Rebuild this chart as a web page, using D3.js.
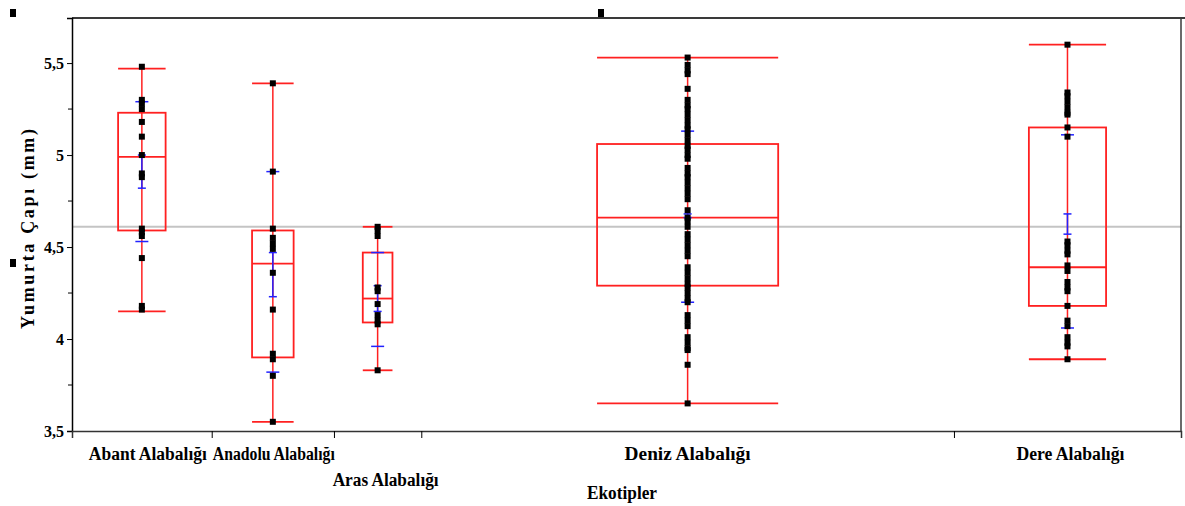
<!DOCTYPE html>
<html>
<head>
<meta charset="utf-8">
<script src="https://cdn.jsdelivr.net/npm/d3@7"></script>
<style>
  body { margin: 0; background: #fff; }
</style>
</head>
<body>
<svg id="chart" width="1185" height="506"></svg>
<script>
// ecotypes and how wide each one is drawn (JMP: width ~ sample size)
const categories = ["Abant Alabalığı", "Anadolu Alabalığı", "Aras Alabalığı", "Deniz Alabalığı", "Dere Alabalığı"];
const groupN = [16, 14, 10, 61, 26];

// box plot stats
const whiskerHigh = [5.47, 5.39, 4.61, 5.53, 5.60];
const q3 = [5.23, 4.59, 4.47, 5.06, 5.15];
const medians = [4.99, 4.41, 4.22, 4.66, 4.39];
const q1 = [4.59, 3.90, 4.09, 4.29, 4.18];
const whiskerLow = [4.15, 3.55, 3.83, 3.65, 3.89];

// mean +- sd lines and mean error bars (blue)
const sdHigh = [5.29, 4.91, 4.47, 5.13, 5.11];
const sdLow = [4.53, 3.82, 3.96, 4.20, 4.06];
const seHigh = [5.00, 4.47, 4.29, 4.68, 4.68];
const seLow = [4.82, 4.23, 4.15, 4.66, 4.57];
const grandMean = 4.61;

// individual eggs
const abantPts = [5.48, 5.30, 5.28, 5.25, 5.18, 5.10, 5.00, 4.90, 4.88, 4.60, 4.58, 4.56, 4.44, 4.18, 4.16];
const anadoluPts = [5.39, 4.91, 4.60, 4.55, 4.52, 4.49, 4.36, 4.16, 3.92, 3.89, 3.80, 3.55];
const arasPts = [4.61, 4.59, 4.56, 4.28, 4.26, 4.19, 4.13, 4.10, 4.08, 3.83];
const denizPts = [5.53, 5.49, 5.46, 5.44, 5.36,
  5.30, 5.27, 5.25, 5.22, 5.19, 5.16, 5.14, 5.11, 5.08, 5.05, 5.03, 5.00, 4.98,
  4.93, 4.90, 4.88, 4.85, 4.82, 4.79, 4.76, 4.70,
  4.66, 4.64, 4.61, 4.57, 4.54, 4.51, 4.48, 4.45,
  4.39, 4.36, 4.33, 4.30, 4.28, 4.25, 4.22, 4.20,
  4.13, 4.10, 4.07, 4.01, 3.98, 3.95, 3.94, 3.86, 3.65];
const derePts = [5.60, 5.34, 5.32, 5.29, 5.26, 5.23, 5.22, 5.15, 5.10,
  4.53, 4.51, 4.48, 4.46, 4.40, 4.37, 4.31, 4.28, 4.26, 4.18, 4.10, 4.07,
  4.01, 3.98, 3.96, 3.89];
const points = [abantPts, anadoluPts, arasPts, denizPts, derePts];

const yTicks = [3.5, 4, 4.5, 5, 5.5];
const yMinor = [3.75, 4.25, 4.75, 5.25];

const serif = "'Liberation Serif', 'Times New Roman', 'DejaVu Serif', serif";

const svg = d3.select("#chart");
const plotLeft = 72, plotRight = 1181, plotTop = 18, plotBottom = 431;

const y = d3.scaleLinear().domain([3.5, 5.745]).range([plotBottom, plotTop]);

const cum = d3.cumsum(groupN);
const x = d3.scaleLinear().domain([0, cum[cum.length - 1]]).range([plotLeft, plotRight]);
const bounds = categories.map((c, i) => ({ x0: x(i ? cum[i - 1] : 0), x1: x(cum[i]) }));
const mid = i => (bounds[i].x0 + bounds[i].x1) / 2;

// grand mean reference line
svg.append("line")
  .attr("x1", plotLeft).attr("x2", plotRight)
  .attr("y1", y(grandMean)).attr("y2", y(grandMean))
  .attr("stroke", "#c4c4c4").attr("stroke-width", 2);

// frame
svg.append("line").attr("x1", plotLeft).attr("x2", 1185).attr("y1", plotTop).attr("y2", plotTop)
  .attr("stroke", "#3a3a3a").attr("stroke-width", 2);
svg.append("line").attr("x1", plotRight).attr("x2", plotRight).attr("y1", plotTop).attr("y2", plotBottom + 1)
  .attr("stroke", "#3a3a3a").attr("stroke-width", 1.5);

// y axis
const yAxis = svg.append("g").attr("transform", `translate(${plotLeft},0)`)
  .call(d3.axisLeft(y).tickValues(yTicks).tickSize(5).tickPadding(3)
    .tickFormat(d => String(d).replace(".", ",")));
yAxis.select(".domain").attr("stroke", "#000").attr("stroke-width", 1.5);
yAxis.selectAll(".tick line").attr("stroke", "#000");
yAxis.selectAll(".tick text")
  .style("font-family", serif).style("font-weight", "bold").style("font-size", "16px")
  .attr("dy", "0.35em").attr("fill", "#000");
yAxis.selectAll(".minor").data(yMinor).join("line").attr("class", "minor")
  .attr("x1", -4).attr("x2", 0).attr("y1", d => y(d)).attr("y2", d => y(d))
  .attr("stroke", "#000");

// x axis with category boundary ticks
const xAxis = svg.append("g").attr("transform", `translate(0,${plotBottom})`)
  .call(d3.axisBottom(x).tickValues(cum.slice(0, -1)).tickSize(7).tickFormat(""));
xAxis.select(".domain").attr("stroke", "#333").attr("stroke-width", 1.5);
xAxis.selectAll(".tick line").attr("stroke", "#000");

// category labels (Aras staggered to a second row)
const labelDx = [6, 1, 8, 0, 3];
const labelLen = [118, 122, 106, 126, 108];
categories.forEach((c, i) => {
  svg.append("text")
    .attr("x", mid(i) + labelDx[i])
    .attr("y", i === 2 ? 486 : 460)
    .attr("text-anchor", "middle")
    .attr("textLength", labelLen[i])
    .attr("lengthAdjust", "spacingAndGlyphs")
    .style("font-family", serif).style("font-weight", "bold")
    .style("font-size", "18px")
    .text(c);
});

svg.append("text").attr("x", 622).attr("y", 499).attr("text-anchor", "middle")
  .attr("textLength", 70).attr("lengthAdjust", "spacingAndGlyphs")
  .style("font-family", serif).style("font-weight", "bold")
  .style("font-size", "19px").text("Ekotipler");

svg.append("text")
  .attr("transform", "translate(34,229) rotate(-90)")
  .attr("text-anchor", "middle")
  .attr("textLength", 200).attr("lengthAdjust", "spacing")
  .style("font-family", serif).style("font-weight", "bold")
  .style("font-size", "18px")
  .text("Yumurta Çapı (mm)");

// boxes
const red = "#ff2020", blue = "#2222ff";
const g = svg.selectAll(".grp").data(categories).join("g").attr("class", "grp");

g.each(function (c, i) {
  const gg = d3.select(this);
  const cx = mid(i);
  const bw = (bounds[i].x1 - bounds[i].x0) * 0.34;
  const bx = cx - bw / 2;

  gg.append("line").attr("x1", cx).attr("x2", cx)
    .attr("y1", y(whiskerHigh[i])).attr("y2", y(whiskerLow[i]))
    .attr("stroke", red).attr("stroke-width", 1.5);
  [whiskerHigh[i], whiskerLow[i]].forEach(v => {
    gg.append("line").attr("x1", bx).attr("x2", bx + bw)
      .attr("y1", y(v)).attr("y2", y(v))
      .attr("stroke", red).attr("stroke-width", 1.8);
  });
  gg.append("rect").attr("x", bx).attr("y", y(q3[i]))
    .attr("width", bw).attr("height", y(q1[i]) - y(q3[i]))
    .attr("fill", "none").attr("stroke", red).attr("stroke-width", 1.8);
  gg.append("line").attr("x1", bx).attr("x2", bx + bw)
    .attr("y1", y(medians[i])).attr("y2", y(medians[i]))
    .attr("stroke", red).attr("stroke-width", 1.8);

  // sd lines
  [sdHigh[i], sdLow[i]].forEach(v => {
    gg.append("line").attr("x1", cx - 6.5).attr("x2", cx + 6.5)
      .attr("y1", y(v)).attr("y2", y(v))
      .attr("stroke", blue).attr("stroke-width", 1.5);
  });
  // mean error bar
  gg.append("line").attr("x1", cx).attr("x2", cx)
    .attr("y1", y(seHigh[i])).attr("y2", y(seLow[i]))
    .attr("stroke", blue).attr("stroke-width", 1.5);
  [seHigh[i], seLow[i]].forEach(v => {
    gg.append("line").attr("x1", cx - 4).attr("x2", cx + 4)
      .attr("y1", y(v)).attr("y2", y(v))
      .attr("stroke", blue).attr("stroke-width", 1.5);
  });

  gg.selectAll(".pt").data(points[i]).join("rect").attr("class", "pt")
    .attr("x", cx - 3).attr("y", d => y(d) - 3)
    .attr("width", 6).attr("height", 6)
    .attr("fill", "#000");
});

// stray legend markers in the original export
svg.selectAll(".stray").data([[13, 13], [601, 13], [13, 263]]).join("rect").attr("class", "stray")
  .attr("x", d => d[0] - 3).attr("y", d => d[1] - 4)
  .attr("width", 6).attr("height", 8).attr("fill", "#000");
</script>
</body>
</html>
